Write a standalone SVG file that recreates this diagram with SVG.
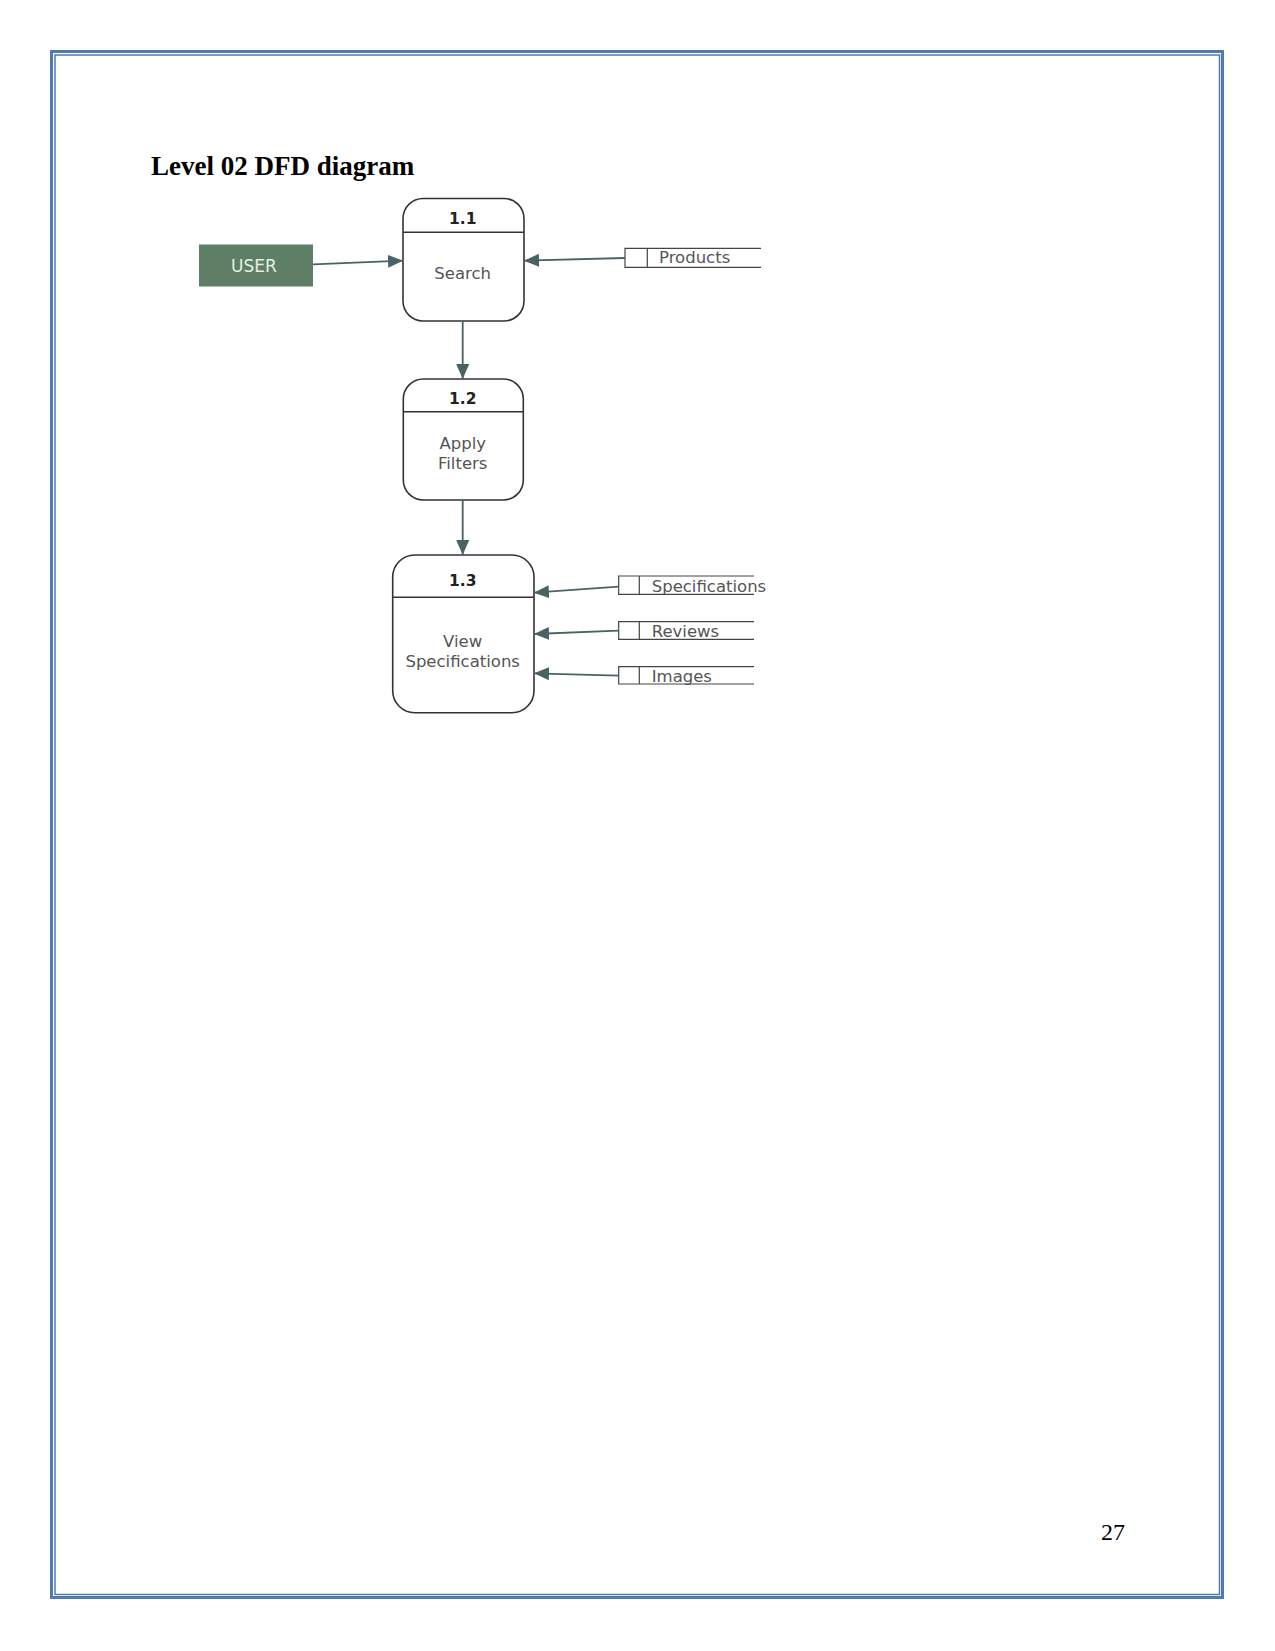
<svg xmlns="http://www.w3.org/2000/svg" width="1275" height="1651" viewBox="0 0 1275 1651">
<style>
.page{fill:none;stroke:#4f7bb0}
.proc{fill:#fff;stroke:#333;stroke-width:1.6}
.div{stroke:#333;stroke-width:1.4}
.num{font-family:"DejaVu Sans",sans-serif;font-size:15.5px;font-weight:bold;fill:#222;text-anchor:middle}
.lbl{font-family:"DejaVu Sans",sans-serif;font-size:16.5px;fill:#555;text-anchor:middle}
.store{fill:none;stroke:#444;stroke-width:1.2}
.stxt{font-family:"DejaVu Sans",sans-serif;font-size:16.5px;fill:#555}
.flow{stroke:#4a6266;stroke-width:1.8;fill:none;marker-end:url(#ah)}
</style>
<defs>
<marker id="ah" markerUnits="userSpaceOnUse" markerWidth="16" markerHeight="14" refX="15" refY="6.5" orient="auto">
<path d="M0,0 L15,6.5 L0,13 Z" fill="#4a6266"/>
</marker>
</defs>
<rect width="1275" height="1651" fill="#fff"/>
<rect class="page" x="51.5" y="51.5" width="1171" height="1546" stroke-width="3"/>
<rect class="page" x="55" y="55" width="1164.5" height="1539.5" stroke-width="1.5"/>
<text x="151" y="175" font-family="Liberation Serif, serif" font-size="27" font-weight="bold" fill="#000">Level 02 DFD diagram</text>
<text x="1101" y="1540" font-family="Liberation Serif, serif" font-size="24" fill="#000">27</text>

<g id="user">
<rect x="199" y="244.5" width="114" height="42" fill="#5e7f66"/>
<text x="254" y="271.5" font-family="DejaVu Sans, sans-serif" font-size="17" fill="#e4efe4" text-anchor="middle">USER</text>
</g>

<g id="p1_1">
<rect class="proc" x="403" y="198.5" width="121" height="122.5" rx="20"/>
<line class="div" x1="403" y1="232.3" x2="524" y2="232.3"/>
<text class="num" x="462.7" y="224">1.1</text>
<text class="lbl" x="462.7" y="279">Search</text>
</g>

<g id="p1_2">
<rect class="proc" x="403.3" y="379" width="120" height="121" rx="20"/>
<line class="div" x1="403.3" y1="411.7" x2="523.3" y2="411.7"/>
<text class="num" x="462.7" y="404">1.2</text>
<text class="lbl" x="462.7" y="448.5">Apply</text>
<text class="lbl" x="462.7" y="469">Filters</text>
</g>

<g id="p1_3">
<rect class="proc" x="392.7" y="555" width="141.3" height="157.7" rx="22"/>
<line class="div" x1="392.7" y1="597.3" x2="534" y2="597.3"/>
<text class="num" x="462.7" y="585.7">1.3</text>
<text class="lbl" x="462.7" y="646.7">View</text>
<text class="lbl" x="462.7" y="666.7">Specifications</text>
</g>

<g id="ds_products">
<path class="store" d="M761,248.3 H625 V267.3 H761 M647.3,248.3 V267.3"/>
<text class="stxt" x="659" y="263.3">Products</text>
</g>

<g id="ds_specifications">
<path class="store" d="M754,576 H618.7 V594.3 H754 M639.3,576 V594.3"/>
<text class="stxt" x="651.7" y="591.5">Specifications</text>
</g>

<g id="ds_reviews">
<path class="store" d="M754,621.7 H618.7 V639.3 H754 M639.3,621.7 V639.3"/>
<text class="stxt" x="651.7" y="636.5">Reviews</text>
</g>

<g id="ds_images">
<path class="store" d="M754,666.7 H618.7 V684 H754 M639.3,666.7 V684"/>
<text class="stxt" x="651.7" y="681.5">Images</text>
</g>

<g id="connectors">
<line class="flow" x1="313" y1="264.3" x2="403" y2="260.7"/>
<line class="flow" x1="625" y1="258" x2="524" y2="260.7"/>
<line class="flow" x1="462.7" y1="321" x2="462.7" y2="379"/>
<line class="flow" x1="462.7" y1="500" x2="462.7" y2="555"/>
<line class="flow" x1="618.7" y1="586.7" x2="534" y2="592.7"/>
<line class="flow" x1="618.7" y1="630.7" x2="534" y2="634"/>
<line class="flow" x1="618.7" y1="675.7" x2="534" y2="673.3"/>
</g>
</svg>
